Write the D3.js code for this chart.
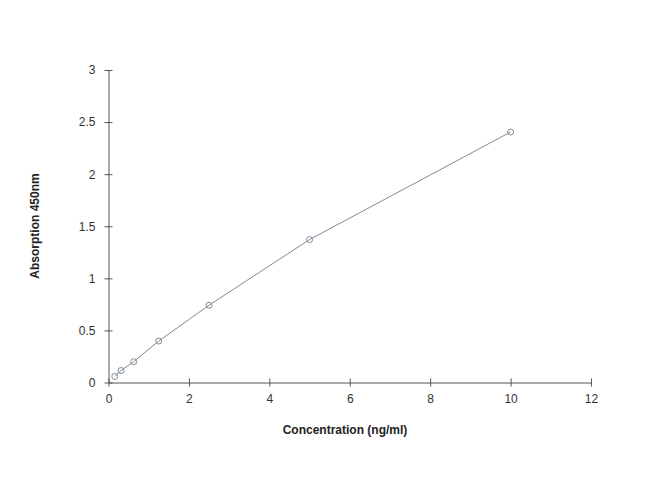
<!DOCTYPE html>
<html><head><meta charset="utf-8">
<script src="https://cdn.jsdelivr.net/npm/d3@7"></script>
<style>body{margin:0;background:#fff}</style>
</head><body>
<script>
const concentrations = [0.156, 0.3125, 0.625, 1.25, 2.5, 5, 10];
const absorbance = [0.058, 0.115, 0.2, 0.398, 0.742, 1.372, 2.405];
const xTicks = [0, 2, 4, 6, 8, 10, 12];
const yTicks = [0, 0.5, 1, 1.5, 2, 2.5, 3];

const W = 650, H = 482;
const svg = d3.select("body").append("svg").attr("width", W).attr("height", H);
const x = d3.scaleLinear().domain([0, 12]).range([108.5, 591]);
const y = d3.scaleLinear().domain([0, 3]).range([382.5, 70]);
const font = "'Liberation Sans', Arial, sans-serif";

const xa = svg.append("g").attr("transform", `translate(0,${y(0)})`)
  .call(d3.axisBottom(x).tickValues(xTicks).tickFormat(d3.format("")).tickSizeOuter(0).tickSizeInner(4).tickPadding(8));
xa.selectAll(".tick line").attr("y1", -4);
const ya = svg.append("g").attr("transform", `translate(${x(0)},0)`)
  .call(d3.axisLeft(y).tickValues(yTicks).tickFormat(d3.format("")).tickSizeOuter(0).tickSizeInner(4).tickPadding(9));
ya.selectAll(".tick line").attr("x1", 4);
[xa, ya].forEach(a => {
  a.select(".domain").attr("stroke", "#555");
  a.selectAll(".tick line").attr("stroke", "#555");
  a.selectAll("text").attr("font-family", font).attr("font-size", 12).attr("fill", "#333");
});

const line = d3.line().x((d, i) => x(concentrations[i])).y(d => y(d));
svg.append("path").datum(absorbance).attr("d", line).attr("fill", "none").attr("stroke", "#7f8c99").attr("stroke-width", 1);
svg.selectAll("circle.pt").data(absorbance).enter().append("circle").attr("class", "pt")
  .attr("cx", (d, i) => x(concentrations[i])).attr("cy", d => y(d)).attr("r", 3)
  .attr("fill", "none").attr("stroke", "#7f8c99").attr("stroke-width", 1);

svg.append("text").attr("x", 345).attr("y", 434).attr("text-anchor", "middle")
  .attr("font-family", font).attr("font-size", 12).attr("font-weight", "bold").attr("fill", "#222")
  .text("Concentration (ng/ml)");
svg.append("text").attr("transform", "translate(39,226) rotate(-90)").attr("text-anchor", "middle")
  .attr("font-family", font).attr("font-size", 12).attr("font-weight", "bold").attr("fill", "#222")
  .text("Absorption 450nm");
</script>
</body></html>
